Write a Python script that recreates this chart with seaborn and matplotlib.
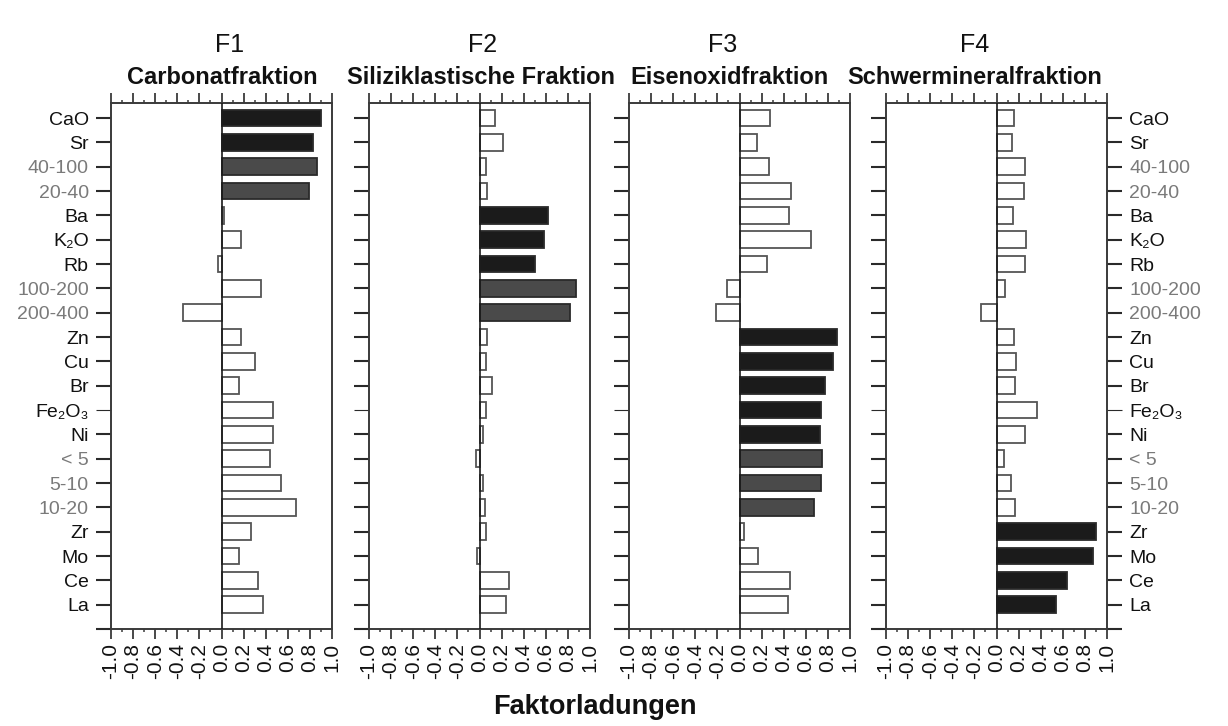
import numpy as np
import pandas as pd
import seaborn as sns
import matplotlib.pyplot as plt
from matplotlib.ticker import MultipleLocator

# ---------------- data ----------------
categories = ['CaO', 'Sr', '40-100', '20-40', 'Ba', 'K₂O', 'Rb', '100-200', '200-400',
              'Zn', 'Cu', 'Br', 'Fe₂O₃', 'Ni', '< 5', '5-10', '10-20', 'Zr', 'Mo', 'Ce', 'La']
grain_sizes = ['40-100', '20-40', '100-200', '200-400', '< 5', '5-10', '10-20']

factor_names = ['F1', 'F2', 'F3', 'F4']
factor_titles = ['Carbonatfraktion', 'Siliziklastische Fraktion', 'Eisenoxidfraktion',
                 'Schwermineralfraktion']

f1 = [0.90, 0.83, 0.86, 0.79, 0.02, 0.18, -0.03, 0.36, -0.35, 0.18, 0.30, 0.16, 0.47,
      0.47, 0.44, 0.54, 0.67, 0.27, 0.16, 0.33, 0.38]
f2 = [0.14, 0.21, 0.06, 0.07, 0.62, 0.58, 0.50, 0.87, 0.82, 0.07, 0.06, 0.11, 0.06,
      0.03, -0.03, 0.03, 0.05, 0.06, -0.02, 0.27, 0.24]
f3 = [0.28, 0.16, 0.27, 0.47, 0.45, 0.65, 0.25, -0.11, -0.21, 0.88, 0.85, 0.77, 0.74,
      0.73, 0.75, 0.74, 0.67, 0.04, 0.17, 0.46, 0.44]
f4 = [0.16, 0.14, 0.26, 0.25, 0.15, 0.27, 0.26, 0.08, -0.14, 0.16, 0.18, 0.17, 0.37,
      0.26, 0.07, 0.13, 0.17, 0.90, 0.87, 0.64, 0.54]

# highlighted loadings: elements (black) and grain-size classes (dark grey)
f1_black = ['CaO', 'Sr'];                          f1_grey = ['40-100', '20-40']
f2_black = ['Ba', 'K₂O', 'Rb'];                    f2_grey = ['100-200', '200-400']
f3_black = ['Zn', 'Cu', 'Br', 'Fe₂O₃', 'Ni'];      f3_grey = ['< 5', '5-10', '10-20']
f4_black = ['Zr', 'Mo', 'Ce', 'La'];               f4_grey = []

x_ticks = [-1.0, -0.8, -0.6, -0.4, -0.2, 0.0, 0.2, 0.4, 0.6, 0.8, 1.0]
x_label = 'Faktorladungen'

# ---------------- style ----------------
sns.set_theme(style='white')
plt.rcParams['font.family'] = ['Liberation Sans', 'DejaVu Sans']

W, H = 1228, 726
fig = plt.figure(figsize=(W / 100, H / 100), dpi=100)

lefts = [111, 369, 629, 886]
pw = 221
top_px, bot_px = 103, 629

BLACK = '#1b1b1b'
GREY = '#4a4a4a'
SPINE = '#3a3a3a'

loadings = [f1, f2, f3, f4]
blacks = [f1_black, f2_black, f3_black, f4_black]
greys = [f1_grey, f2_grey, f3_grey, f4_grey]
fnum_x = [230, 483, 723, 975]
sub_x = [222, 481, 730, 975]

for i in range(4):
    ax = fig.add_axes([lefts[i] / W, 1 - bot_px / H, pw / W, (bot_px - top_px) / H])
    df = pd.DataFrame({'cat': categories, 'val': loadings[i]})
    pal = {}
    for c in categories:
        if c in blacks[i]:
            pal[c] = BLACK
        elif c in greys[i]:
            pal[c] = GREY
        else:
            pal[c] = '#ffffff'
    sns.barplot(data=df, x='val', y='cat', hue='cat', palette=pal, legend=False,
                orient='h', width=0.68, ax=ax, saturation=1)
    for p in ax.patches:
        idx = int(round(p.get_y() + p.get_height() / 2))
        c = categories[idx]
        if c in blacks[i] or c in greys[i]:
            p.set_edgecolor('#2a2a2a')
        else:
            p.set_edgecolor('#555555')
        p.set_linewidth(1.3)

    ax.axvline(0, color='#1a1a1a', lw=1.2, zorder=3)
    ax.set_xlim(-1.0, 1.0)
    ax.set_ylim(21.0, -0.62)
    ax.set_xlabel('')
    ax.set_ylabel('')

    for s in ax.spines.values():
        s.set_color(SPINE)
        s.set_linewidth(1.4)
        s.set_visible(True)

    # x ticks: bottom labelled, top unlabelled, minor every 0.1
    ax.set_xticks(x_ticks)
    ax.set_xticklabels([f'{t:.1f}' for t in x_ticks], rotation=90, fontsize=15,
                       color='#111111')
    ax.xaxis.set_minor_locator(MultipleLocator(0.1))
    ax.tick_params(axis='x', which='major', direction='out', length=7, width=1.3,
                   color=SPINE, top=True, bottom=True, labeltop=False, pad=3)
    ax.tick_params(axis='x', which='minor', direction='out', length=2.5, width=1.1,
                   color=SPINE, top=True, bottom=True)

    # y ticks
    ax.set_yticks(list(range(len(categories))) + [21])
    ax.set_yticklabels(categories + [''], fontsize=14)
    left_lab = (i == 0)
    right_side = (i == 3)
    ax.tick_params(axis='y', which='major', direction='out', length=11, width=1.5,
                   color='#2a2a2a', left=True, right=right_side,
                   labelleft=left_lab, labelright=right_side, pad=5)
    for t, c in zip(ax.yaxis.get_major_ticks(), categories + ['']):
        if c == 'Fe₂O₃':
            t.tick1line.set_color('#c8c8c8')
            t.tick2line.set_color('#c8c8c8')
            t.tick1line.set_markeredgewidth(0.8)
            t.tick2line.set_markeredgewidth(0.8)
    for lab in ax.get_yticklabels():
        if lab.get_text() in grain_sizes:
            lab.set_color('#7a7a7a')
        else:
            lab.set_color('#111111')

    fig.text(fnum_x[i] / W, 1 - 45 / H, factor_names[i], ha='center', va='center',
             fontsize=18, color='#111111')
    fig.text(sub_x[i] / W, 1 - 78 / H, factor_titles[i], ha='center', va='center',
             fontsize=17, fontweight='bold', color='#111111')

fig.text(595 / W, 1 - 707 / H, x_label, ha='center', va='center', fontsize=19.5,
         fontweight='bold', color='#111111')

fig.savefig('out.png', dpi=100, facecolor='white')
